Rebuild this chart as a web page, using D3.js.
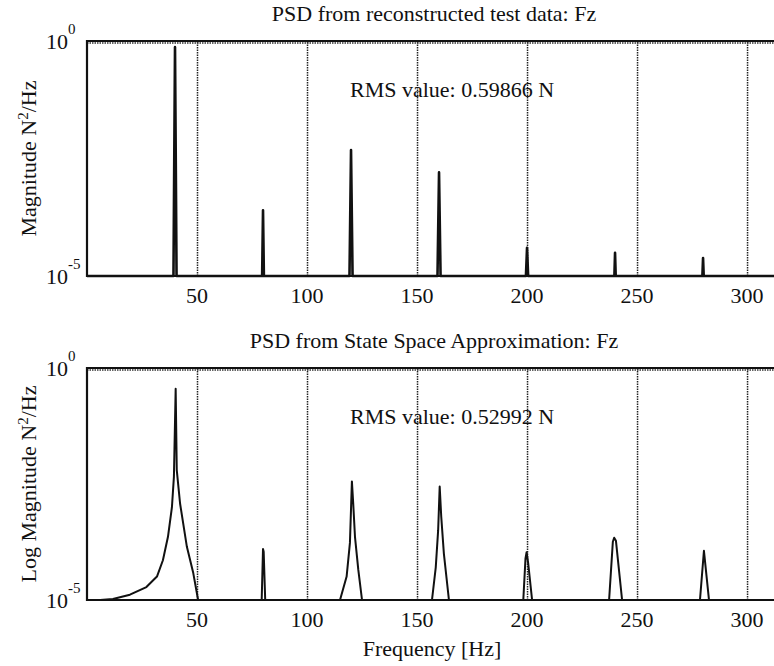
<!DOCTYPE html>
<html>
<head>
<meta charset="utf-8">
<script src="https://cdn.jsdelivr.net/npm/d3@7/dist/d3.min.js"></script>
<style>
  body { margin: 0; background: #fff; }
  svg text { font-family: "Liberation Serif", "Times New Roman", serif; fill: #111; }
  .frame { stroke: #111; stroke-width: 2.2; fill: none; }
  .grid line { stroke: #222; stroke-width: 1.5; stroke-dasharray: 1.5,1; }
  .grid path { display: none; }
  .trace { fill: none; stroke: #111; stroke-linejoin: round; }
</style>
</head>
<body>
<svg id="chart" width="774" height="666"></svg>
<script>

// ---- data ----

// top panel: spikes of the reconstructed test data
const testPeakFreq = [40, 80, 120, 160, 200, 240, 280];
const testPeakMag  = [0.74, 2.5e-4, 4.8e-3, 1.6e-3, 4.0e-5, 3.1e-5, 2.4e-5];
const testHalfWidth = [0.7, 0.4, 0.7, 0.7, 0.5, 0.3, 0.3];   // Hz, half width of spike base

// bottom panel: state space approximation curve
const ssFreq = [0, 6, 11.8, 19.5, 27, 31.8, 34.5, 36.8, 38.6, 39.5, 40.3, 40.8, 42.3, 45.4, 48.3, 50.5,
                79.4, 80, 80.3, 81,
                115, 118, 119.5, 120.4, 121, 121.8, 123.3, 125,
                156.8, 158.5, 159.6, 160.3, 161, 162.2, 164.5,
                198.3, 199.3, 199.8, 200.5, 202.3,
                237.3, 239, 239.6, 240.4, 243.2,
                278.6, 280.4, 282.7,
                313];
const ssMag  = [1e-5, 1e-5, 1.05e-5, 1.3e-5, 1.9e-5, 3.2e-5, 7.2e-5, 2.3e-4, 1.0e-3, 4.5e-3, 0.355, 6.3e-3, 1.2e-3, 1.4e-4, 3.8e-5, 1e-5,
                1e-5, 1.26e-4, 1.1e-4, 1e-5,
                1e-5, 3.2e-5, 1.7e-4, 3.6e-3, 1.2e-3, 2.3e-4, 4.5e-5, 1e-5,
                1e-5, 5e-5, 3.2e-4, 2.8e-3, 6.3e-4, 1e-4, 1e-5,
                1e-5, 7.9e-5, 1.07e-4, 6.3e-5, 1e-5,
                1e-5, 1.8e-4, 2.2e-4, 1.9e-4, 1e-5,
                1e-5, 1.15e-4, 1e-5,
                1e-5];

const xTicks = [50, 100, 150, 200, 250, 300];
const yTickExps = [0, -5];
const titles = ["PSD from reconstructed test data: Fz", "PSD from State Space Approximation: Fz"];
const yLabels = ["Magnitude N", "Log Magnitude N"];
const rmsTexts = ["RMS value: 0.59866 N", "RMS value: 0.52992 N"];

// ---- layout ----
const svg = d3.select("#chart");
const left = 87, right = 775;
const panels = [{top: 41, bottom: 276, width: 2.6}, {top: 368, bottom: 600, width: 2}];

const x = d3.scaleLinear().domain([0, 312.7]).range([left, right]);

// build spike points for the test data
const testData = [[0, 1e-5]];
testPeakFreq.forEach((f, i) => {
    testData.push([f - testHalfWidth[i], 1e-5]);
    testData.push([f, testPeakMag[i]]);
    testData.push([f + testHalfWidth[i], 1e-5]);
});
testData.push([312.7, 1e-5]);

const ssData = ssFreq.map((f, i) => [f, ssMag[i]]);
const series = [testData, ssData];

panels.forEach((p, k) => {

    const y = d3.scaleLog().domain([1e-5, 1]).range([p.bottom, p.top]);
    const g = svg.append("g");

    // dotted vertical grid
    g.append("g")
     .attr("class", "grid")
     .attr("transform", `translate(0,${p.bottom})`)
     .call(d3.axisBottom(x).tickValues(xTicks).tickSize(-(p.bottom - p.top)).tickFormat(""));

    // dotted grid line at 10^0 just under the top frame
    g.append("line")
     .attr("x1", left).attr("x2", right)
     .attr("y1", y(1) + 2).attr("y2", y(1) + 2)
     .attr("stroke", "#333").attr("stroke-width", 1.5).attr("stroke-dasharray", "1.5,1");

    // frame (right edge is cut off)
    g.append("path")
     .attr("class", "frame")
     .attr("d", `M${right},${p.top}H${left}V${p.bottom}H${right}`);

    // trace
    const line = d3.line()
                   .x(d => x(d[0]))
                   .y(d => y(Math.max(d[1], 1e-5)));

    g.append("path")
     .attr("class", "trace")
     .attr("stroke-width", p.width)
     .datum(series[k])
     .attr("d", line);

    // x tick labels
    g.selectAll("text.xt")
     .data(xTicks)
     .enter()
     .append("text")
     .attr("class", "xt")
     .attr("x", d => x(d))
     .attr("y", p.bottom + 27)
     .attr("text-anchor", "middle")
     .attr("font-size", 22)
     .text(d => d);

    // y tick labels 10^e
    const yt = g.selectAll("text.yt")
                .data(yTickExps)
                .enter()
                .append("text")
                .attr("class", "yt")
                .attr("x", 46)
                .attr("y", d => y(Math.pow(10, d)) + 8)
                .attr("font-size", 22);
    yt.append("tspan").text("10");
    yt.append("tspan").attr("dy", -15).attr("font-size", 15).text(d => d);

    // title
    g.append("text")
     .attr("x", 434)
     .attr("y", p.top - 20)
     .attr("text-anchor", "middle")
     .attr("font-size", 22)
     .text(titles[k]);

    // y axis label
    const yl = g.append("text")
                .attr("transform", `translate(36,${(p.top + p.bottom) / 2}) rotate(-90)`)
                .attr("text-anchor", "middle")
                .attr("font-size", 22);
    yl.append("tspan").text(yLabels[k]);
    yl.append("tspan").attr("dy", -8).attr("font-size", 15).text("2");
    yl.append("tspan").attr("dy", 8).text("/Hz");

    // RMS annotation
    g.append("text")
     .attr("x", 350)
     .attr("y", p.top + 56)
     .attr("font-size", 22)
     .text(rmsTexts[k]);
});

// x axis label
svg.append("text")
   .attr("x", 432)
   .attr("y", 656)
   .attr("text-anchor", "middle")
   .attr("font-size", 22)
   .text("Frequency [Hz]");

</script>
</body>
</html>
